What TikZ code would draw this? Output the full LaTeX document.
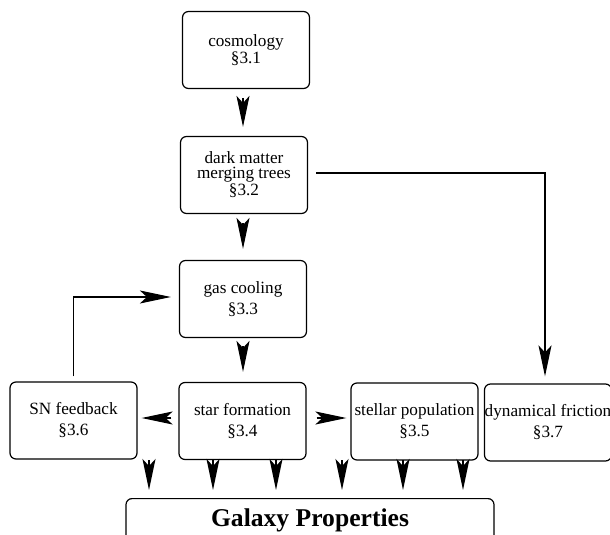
\documentclass[tikz,border=0pt]{standalone}
\usepackage{fontspec}
\setmainfont{Liberation Serif}
\usetikzlibrary{arrows.meta, positioning, calc}

\tikzset{
  box/.style={draw, rounded corners=3pt, line width=0.6pt, minimum width=63.5pt, minimum height=38.5pt, inner sep=0pt, align=center, font=\fontsize{8.6}{7.4}\selectfont},
  lowbox/.style={box, font=\fontsize{8.6}{10.5}\selectfont},
  flow/.style={-{Stealth[length=15.5pt, width=6.5pt, inset=3.5pt]}, line width=0.75pt},
}

\begin{document}
\begin{tikzpicture}[x=0.5pt, y=-0.5pt]
            \useasboundingbox (0,0) rectangle (610,535);

            % Boxes
            \node[box] (cos) at (246,50) {cosmology\\§3.1};
            \node[box] (dm) at (244,175) {dark matter\\merging trees\\§3.2};
            \node[lowbox] (gas) at (243,299) {gas cooling\\§3.3};
            \node[lowbox] (sf) at (242.5,421) {star formation\\§3.4};
            \node[lowbox] (sn) at (73.5,420.5) {SN feedback\\§3.6};
            \node[lowbox] (sp) at (414.5,421.5) {stellar population\\§3.5};
            \node[lowbox] (df) at (548,422.5) {dynamical friction\\§3.7};
            \node[draw, rounded corners=3pt, line width=0.6pt, anchor=north, minimum width=184pt, inner sep=2.5pt, text height=11.5pt, text depth=7pt, font=\bfseries\fontsize{12.8}{14}\selectfont] (gal) at (310,498) {Galaxy Properties};

            % Arrows
            \draw[flow, shorten <=4.5pt, shorten >=4.5pt] ([xshift=-1.5pt]cos.south) -- ([xshift=-1.5pt]cos.south |- dm.north);
            \draw[flow, shorten <=4.5pt, shorten >=5.5pt] ([xshift=-0.5pt]dm.south) -- ([xshift=-0.5pt]dm.south |- gas.north);
            \draw[flow, shorten <=4pt, shorten >=5pt] (gas.south) -- (gas.south |- sf.north);
            \draw[flow, shorten <=3.5pt, shorten >=2pt] ([yshift=1.5pt]sf.west) -- ([yshift=1.5pt]sf.west -| sn.east);
            \draw[flow, shorten <=5pt, shorten >=2pt] ([yshift=1.5pt]sf.east) -- ([yshift=1.5pt]sf.east -| sp.west);
            \draw[flow, shorten <=2.5pt, shorten >=4pt] (sn.north) |- ([yshift=1pt]gas.west);
            \draw[flow, shorten <=4pt, shorten >=3.5pt] ([yshift=1pt]dm.east) -| ([xshift=-1.5pt]df.north);

            % Into Galaxy Properties
            \foreach \x [count=\i] in {149,213,276,342,403,463} {
              \coordinate (in\i) at (\x,460);
              \draw[flow, shorten >=4pt] (in\i) -- (in\i |- gal.north);
            }
\end{tikzpicture}
\end{document}
